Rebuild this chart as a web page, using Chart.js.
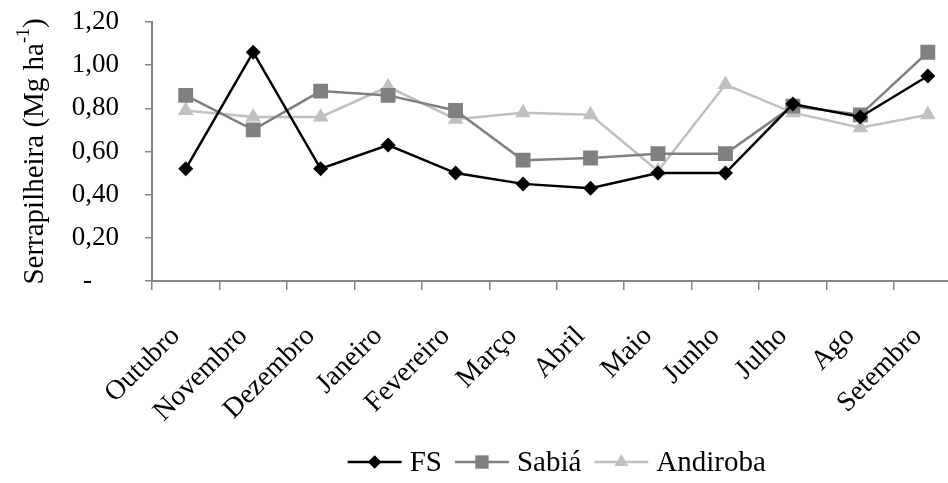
<!DOCTYPE html>
<html>
<head>
<meta charset="utf-8">
<title>Serrapilheira</title>
<script src="https://cdn.jsdelivr.net/npm/chart.js@4/dist/chart.umd.min.js"></script>
<style>
  html, body { margin: 0; padding: 0; background: #fff; overflow: hidden; }
  #wrap { position: relative; width: 982px; height: 483px; }
</style>
</head>
<body>
<div id="wrap"><canvas id="chart"></canvas></div>
<script>
const months = ['Outubro', 'Novembro', 'Dezembro', 'Janeiro', 'Fevereiro', 'Março',
                'Abril', 'Maio', 'Junho', 'Julho', 'Ago', 'Setembro'];
const fs       = [0.52, 1.06, 0.52, 0.63, 0.50, 0.45, 0.43, 0.50, 0.50, 0.82, 0.76, 0.95];
const sabia    = [0.86, 0.70, 0.88, 0.86, 0.79, 0.56, 0.57, 0.59, 0.59, 0.81, 0.77, 1.06];
const andiroba = [0.79, 0.76, 0.76, 0.90, 0.75, 0.78, 0.77, 0.51, 0.91, 0.78, 0.71, 0.77];
const yTicks   = [0, 0.2, 0.4, 0.6, 0.8, 1.0, 1.2];
const yTitle   = 'Serrapilheira (Mg ha';
const yTitleSup = '-1';

const SERIF = "'Liberation Serif', 'Times New Roman', serif";
const AXIS = '#868686';

function fmt(v) {
  if (Math.abs(v) < 1e-9) return '-    ';
  return v.toFixed(2).replace('.', ',');
}

function shape(ctx, style, x, y, r, color) {
  ctx.save();
  ctx.fillStyle = color;
  ctx.beginPath();
  if (style === 'rectRot') {
    ctx.moveTo(x, y - r); ctx.lineTo(x + r, y); ctx.lineTo(x, y + r); ctx.lineTo(x - r, y);
  } else if (style === 'rect') {
    const h = r * Math.SQRT1_2;
    ctx.rect(x - h, y - h, 2 * h, 2 * h);
  } else {
    ctx.moveTo(x, y - r);
    ctx.lineTo(x + r * Math.cos(Math.PI / 6), y + r / 2);
    ctx.lineTo(x - r * Math.cos(Math.PI / 6), y + r / 2);
  }
  ctx.closePath();
  ctx.fill();
  ctx.restore();
}

// Rotated y-axis title with a superscript exponent
const yTitlePlugin = {
  id: 'yTitle',
  afterDraw(chart) {
    const ctx = chart.ctx;
    const area = chart.chartArea;
    const big = '29px ' + SERIF, small = '18px ' + SERIF;
    ctx.save();
    ctx.font = big;
    const w1 = ctx.measureText(yTitle).width;
    const w3 = ctx.measureText(')').width;
    ctx.font = small;
    const w2 = ctx.measureText(yTitleSup).width;
    const total = w1 + w2 + w3;
    ctx.translate(35, (area.top + area.bottom) / 2);
    ctx.rotate(-Math.PI / 2);
    ctx.fillStyle = '#000';
    ctx.textBaseline = 'middle';
    ctx.textAlign = 'left';
    let x = -total / 2;
    ctx.font = big;
    ctx.fillText(yTitle, x, 0); x += w1;
    ctx.font = small;
    ctx.fillText(yTitleSup, x, -11); x += w2;
    ctx.font = big;
    ctx.fillText(')', x, 0);
    ctx.restore();
  }
};

// Legend with line + marker samples under the plot
const legendPlugin = {
  id: 'lineLegend',
  afterDraw(chart) {
    const ctx = chart.ctx;
    const sets = chart.data.datasets;
    const area = chart.chartArea;
    const lineW = 54, gapText = 8, itemGap = 13, y = 462;
    ctx.save();
    ctx.font = '29px ' + SERIF;
    const widths = sets.map(d => ctx.measureText(d.label).width);
    const total = widths.reduce((a, b) => a + b, 0) + sets.length * (lineW + gapText) + (sets.length - 1) * itemGap;
    let x = (area.left + area.right) / 2 - total / 2;
    sets.forEach((d, i) => {
      ctx.strokeStyle = d.borderColor;
      ctx.lineWidth = d.borderWidth;
      ctx.beginPath();
      ctx.moveTo(x, y); ctx.lineTo(x + lineW, y);
      ctx.stroke();
      shape(ctx, d.pointStyle, x + lineW / 2, y, d.pointRadius * 0.9, d.backgroundColor);
      x += lineW + gapText;
      ctx.fillStyle = '#000';
      ctx.textBaseline = 'middle';
      ctx.textAlign = 'left';
      ctx.fillText(d.label, x, y + 1);
      x += widths[i] + itemGap;
    });
    ctx.restore();
  }
};

new Chart(document.getElementById('chart'), {
  type: 'line',
  data: {
    labels: months,
    datasets: [
      { label: 'FS', data: fs, borderColor: '#000000', backgroundColor: '#000000',
        borderWidth: 2.5, pointStyle: 'rectRot', pointRadius: 7.5, pointBorderWidth: 0, tension: 0 },
      { label: 'Sabiá', data: sabia, borderColor: '#808080', backgroundColor: '#808080',
        borderWidth: 2.5, pointStyle: 'rect', pointRadius: 10.5, pointBorderWidth: 0, tension: 0 },
      { label: 'Andiroba', data: andiroba, borderColor: '#c0c0c0', backgroundColor: '#c0c0c0',
        borderWidth: 2.5, pointStyle: 'triangle', pointRadius: 9, pointBorderWidth: 0, tension: 0 }
    ]
  },
  options: {
    responsive: true,
    maintainAspectRatio: false,
    animation: false,
    events: [],
    layout: { padding: { left: 0, right: 1, top: 22, bottom: 0 } },
    plugins: { legend: { display: false }, tooltip: { enabled: false } },
    scales: {
      x: {
        offset: true,
        grid: { display: true, drawOnChartArea: false, offset: true, tickLength: 9, color: AXIS, lineWidth: 1.5 },
        border: { display: true, color: AXIS, width: 2 },
        ticks: { color: '#000', font: { family: SERIF, size: 28 }, maxRotation: 45, minRotation: 45,
                 padding: 30, labelOffset: -10, autoSkip: false },
        afterFit(scale) { scale.height = 202; scale.paddingTop = 0; scale.paddingBottom = 0; }
      },
      y: {
        min: 0, max: 1.2,
        afterBuildTicks(scale) { scale.ticks = yTicks.map(v => ({ value: v })); },
        grid: { display: true, drawOnChartArea: false, tickLength: 7, color: AXIS, lineWidth: 1.5 },
        border: { display: true, color: AXIS, width: 2 },
        ticks: { color: '#000', font: { family: SERIF, size: 27 }, padding: 26, callback: v => fmt(v) },
        afterFit(scale) { scale.width = 152; scale.paddingTop = 0; scale.paddingBottom = 0; }
      }
    }
  },
  plugins: [yTitlePlugin, legendPlugin]
});
</script>
</body>
</html>
